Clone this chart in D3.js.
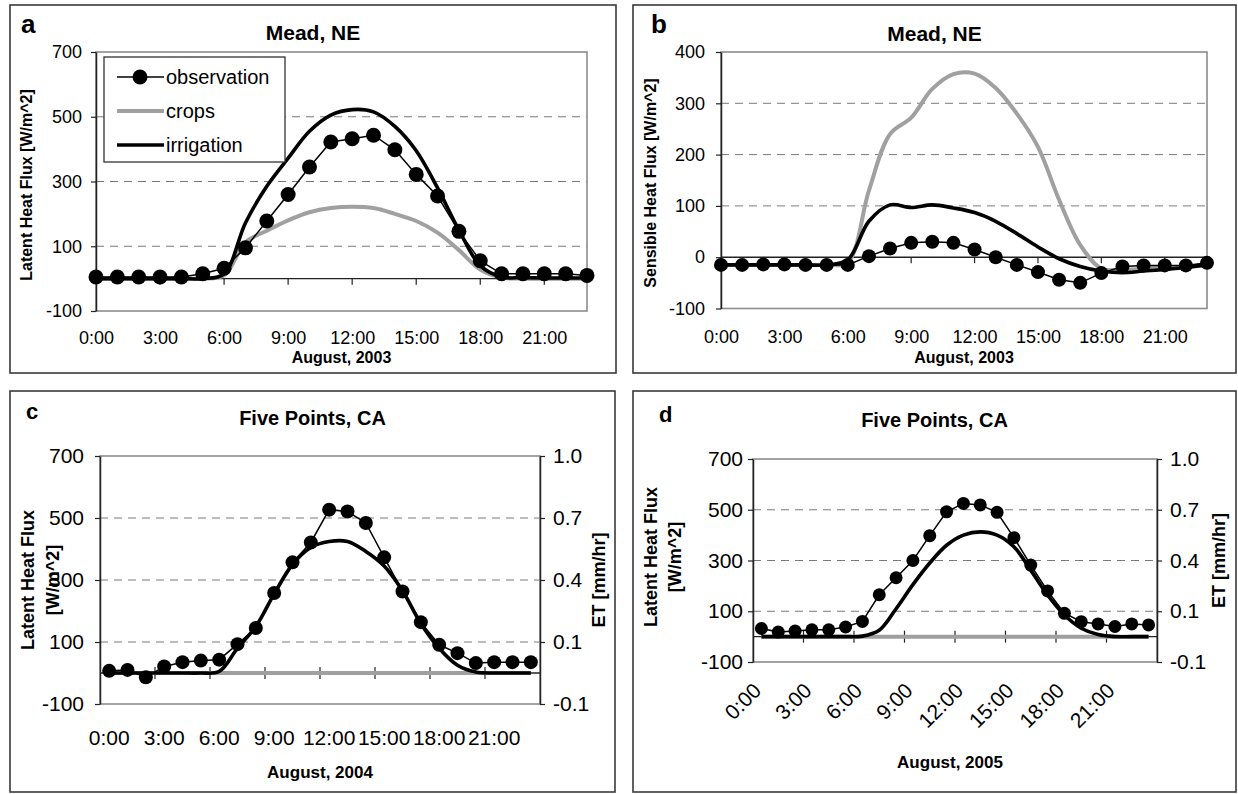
<!DOCTYPE html>
<html><head><meta charset="utf-8">
<script src="https://cdn.jsdelivr.net/npm/d3@7"></script>
<style>
body{margin:0;background:#fff;}
svg{display:block;font-family:"Liberation Sans",Arial,Helvetica,sans-serif;}
</style></head><body>
<svg id="chart" width="1238" height="794"></svg>
<script>
// ---------- data ----------
const hours = d3.range(24).map(h => h + ":00");
const xTickLabels = ["0:00","3:00","6:00","9:00","12:00","15:00","18:00","21:00"];
const latentTicks = [-100, 100, 300, 500, 700];
const sensibleTicks = [-100, 0, 100, 200, 300, 400];
const etTicks = [-0.1, 0.1, 0.4, 0.7, 1.0];
const seriesNames = ["observation", "crops", "irrigation"];

// a: Mead, NE latent heat flux, August 2003
const meadLatentObs   = [5,5,5,5,5,15,32,95,178,260,345,422,432,443,398,322,255,146,55,15,15,15,15,10];
const meadLatentCrops = [0,0,0,0,0,0,10,112,148,180,205,218,222,218,200,178,142,88,28,3,0,0,0,0];
const meadLatentIrr   = [0,0,0,0,0,0,15,172,285,372,455,505,522,515,470,395,280,150,40,5,3,2,2,2];

// b: Mead, NE sensible heat flux, August 2003
const meadSensObs   = [-15,-15,-14,-14,-15,-15,-15,2,17,28,30,28,15,0,-15,-29,-44,-50,-31,-18,-16,-16,-16,-11];
const meadSensCrops = [-15,-15,-15,-15,-15,-15,-10,130,240,272,328,357,358,330,280,215,112,24,-22,-25,-22,-20,-18,-15];
const meadSensIrr   = [-15,-15,-15,-15,-15,-15,-5,70,102,97,102,96,87,70,46,20,-3,-18,-27,-30,-27,-24,-20,-15];

// c: Five Points, CA, August 2004
const fp2004Obs   = [7,10,-14,21,35,40,43,93,145,258,357,421,527,521,484,373,263,164,91,64,32,35,35,35];
const fp2004Crops = [0,0,0,0,0,0,0,0,0,0,0,0,0,0,0,0,0,0,0,0,0,0,0,0];
const fp2004Irr   = [0,0,0,0,0,0,5,80,150,255,350,405,424,424,392,345,265,160,80,25,3,0,0,0];

// d: Five Points, CA, August 2005
const fp2005Obs   = [32,18,22,27,27,38,60,165,232,300,398,492,525,519,490,390,282,180,92,59,50,40,50,46];
const fp2005Crops = [0,0,0,0,0,0,0,0,0,0,0,0,0,0,0,0,0,0,0,0,0,0,0,0];
const fp2005Irr   = [0,0,0,0,0,0,2,25,110,205,290,360,400,413,400,354,262,164,85,33,8,0,0,0];

// ---------- drawing ----------
const svg = d3.select("#chart");
const FONT = '"Liberation Sans",Arial,Helvetica,sans-serif';
const GRAY = "#a0a0a0";
const intFmt = d => String(d);
const etFmt = d => d.toFixed(1);

function panel(cfg) {
  const g = svg.append("g");
  g.append("rect").attr("x", cfg.ox).attr("y", cfg.oy).attr("width", cfg.ow).attr("height", cfg.oh)
    .attr("fill", "#fff").attr("stroke", "#3a3a3a").attr("stroke-width", 1.6);

  const y = d3.scaleLinear().domain([cfg.yTicks[0], cfg.yTicks[cfg.yTicks.length - 1]]).range([cfg.b, cfg.t]);
  let x, cx;
  if (cfg.band) {
    x = d3.scaleBand().domain(hours).range([cfg.l, cfg.r]);
    cx = h => x(h) + x.bandwidth() / 2;
  } else {
    x = d3.scalePoint().domain(hours).range([cfg.l, cfg.r]);
    cx = h => x(h);
  }

  // dashed gridlines
  g.selectAll(".grid").data(cfg.grid).join("line")
    .attr("x1", cfg.l).attr("x2", cfg.r).attr("y1", d => y(d)).attr("y2", d => y(d))
    .attr("stroke", "#7a7a7a").attr("stroke-width", 1).attr("stroke-dasharray", "8,6");

  // plot frame
  g.append("rect").attr("x", cfg.l).attr("y", cfg.t).attr("width", cfg.r - cfg.l).attr("height", cfg.b - cfg.t)
    .attr("fill", "none").attr("stroke", "#8c8c8c").attr("stroke-width", 1.6);

  // y axis
  const ya = d3.axisLeft(y).tickValues(cfg.yTicks).tickSize(5).tickSizeOuter(0).tickPadding(cfg.yPad).tickFormat(intFmt);
  const yg = g.append("g").attr("transform", `translate(${cfg.l},0)`).call(ya);
  yg.select(".domain").attr("stroke", "#222").attr("stroke-width", 1.5);
  yg.selectAll(".tick line").attr("stroke", "#222").attr("stroke-width", 1.2);
  yg.selectAll("text").attr("font-size", cfg.tickFs).attr("font-family", FONT).attr("fill", "#000");

  // right ET axis
  if (cfg.et) {
    const et = d3.scaleLinear().domain(etTicks).range(latentTicks.map(v => y(v)));
    const ea = d3.axisRight(et).tickValues(etTicks).tickSize(5).tickSizeOuter(0).tickPadding(8).tickFormat(etFmt);
    const eg = g.append("g").attr("transform", `translate(${cfg.r},0)`).call(ea);
    eg.select(".domain").attr("stroke", "#222").attr("stroke-width", 1.5);
    eg.selectAll(".tick line").attr("stroke", "#222").attr("stroke-width", 1.2);
    eg.selectAll("text").attr("font-size", cfg.tickFs).attr("font-family", FONT).attr("fill", "#000");
    g.append("text").attr("transform", `translate(${cfg.etX},${(cfg.t + cfg.b) / 2}) rotate(-90)`)
      .attr("text-anchor", "middle").attr("font-weight", "bold").attr("font-size", cfg.yTitleFs)
      .text("ET [mm/hr]");
  }

  // zero axis with tick marks
  const y0 = y(0);
  g.append("line").attr("x1", cfg.l).attr("x2", cfg.r).attr("y1", y0).attr("y2", y0)
    .attr("stroke", "#222").attr("stroke-width", 1.4);
  const tickPos = xTickLabels.slice(1).map(h => x(h));
  g.selectAll(".xtick").data(tickPos).join("line")
    .attr("x1", d => d).attr("x2", d => d)
    .attr("y1", cfg.band ? y0 - 6 : y0).attr("y2", y0 + 6)
    .attr("stroke", "#222").attr("stroke-width", 1.2);

  // x tick labels
  const xa = d3.axisBottom(x).tickValues(xTickLabels).tickSize(0);
  const xg = g.append("g").attr("transform", `translate(0,${cfg.b})`).call(xa);
  xg.select(".domain").remove();
  const xt = xg.selectAll("text").attr("font-size", cfg.tickFs).attr("font-family", FONT).attr("fill", "#000");
  if (cfg.rotate) {
    xt.attr("y", 0).attr("dy", 0).attr("text-anchor", "end")
      .attr("transform", `translate(${cfg.rotDx},${cfg.rotDy}) rotate(-45)`);
  } else {
    xt.attr("y", cfg.xLabY).attr("dy", 0);
  }

  // x title
  g.append("text").attr("x", (cfg.l + cfg.r) / 2 + (cfg.xTitleShift || 0)).attr("y", cfg.xTitleY)
    .attr("text-anchor", "middle").attr("font-weight", "bold").attr("font-size", cfg.xTitleFs).text(cfg.xTitle);

  // y title (one or two lines)
  cfg.yTitle.forEach((line, i) => {
    g.append("text").attr("transform", `translate(${cfg.yTitleX[i]},${cfg.yTitleCY}) rotate(-90)`)
      .attr("text-anchor", "middle").attr("font-weight", "bold").attr("font-size", cfg.yTitleFs).text(line);
  });

  // chart title and panel letter
  g.append("text").attr("x", cfg.ox + cfg.ow / 2).attr("y", cfg.titleY).attr("text-anchor", "middle")
    .attr("font-weight", "bold").attr("font-size", cfg.titleFs).text(cfg.title);
  g.append("text").attr("x", cfg.letterX).attr("y", cfg.letterY).attr("font-weight", "bold")
    .attr("font-size", cfg.letterFs).text(cfg.letter);

  // series
  const smooth = d3.line().x((d, i) => cx(hours[i])).y(d => y(d)).curve(d3.curveCatmullRom.alpha(0.5));
  const straight = d3.line().x((d, i) => cx(hours[i])).y(d => y(d));
  g.append("path").datum(cfg.crops).attr("d", smooth).attr("fill", "none")
    .attr("stroke", GRAY).attr("stroke-width", 4).attr("stroke-linejoin", "round");
  g.append("path").datum(cfg.irr).attr("d", smooth).attr("fill", "none")
    .attr("stroke", "#000").attr("stroke-width", 3.6).attr("stroke-linejoin", "round");
  g.append("path").datum(cfg.obs).attr("d", straight).attr("fill", "none")
    .attr("stroke", "#000").attr("stroke-width", 1.5);
  g.selectAll(".obs").data(cfg.obs).join("circle")
    .attr("cx", (d, i) => cx(hours[i])).attr("cy", d => y(d)).attr("r", cfg.markR).attr("fill", "#000");

  // legend
  if (cfg.legend) {
    const L = cfg.legend;
    g.append("rect").attr("x", L.x).attr("y", L.y).attr("width", L.w).attr("height", L.h)
      .attr("fill", "#fff").attr("stroke", "#333").attr("stroke-width", 1.3);
    seriesNames.forEach((name, i) => {
      const yy = L.y + 20 + i * 34;
      const col = name === "crops" ? GRAY : "#000";
      const sw = name === "observation" ? 1.5 : (name === "crops" ? 4 : 3.6);
      g.append("line").attr("x1", L.x + 13).attr("x2", L.x + 60).attr("y1", yy).attr("y2", yy)
        .attr("stroke", col).attr("stroke-width", sw);
      if (name === "observation") g.append("circle").attr("cx", L.x + 36).attr("cy", yy).attr("r", 7.5).attr("fill", "#000");
      g.append("text").attr("x", L.x + 62).attr("y", yy + 7).attr("font-size", 20).text(name);
    });
  }
}

panel({
  ox: 10, oy: 5, ow: 606, oh: 368,
  l: 96, r: 587, t: 52, b: 311,
  yTicks: latentTicks, grid: [100, 300, 500], yPad: 9, tickFs: 18,
  xLabY: 33, xTitle: "August, 2003", xTitleY: 363, xTitleFs: 16,
  yTitle: ["Latent Heat Flux [W/m^2]"], yTitleX: [32], yTitleCY: 185, yTitleFs: 16,
  title: "Mead, NE", titleY: 40, titleFs: 21, letter: "a", letterX: 21, letterY: 33, letterFs: 26,
  obs: meadLatentObs, crops: meadLatentCrops, irr: meadLatentIrr, markR: 7.5,
  legend: {x: 104, y: 57, w: 181, h: 105}
});

panel({
  ox: 633, oy: 5, ow: 603, oh: 368,
  l: 721, r: 1207, t: 52, b: 308.5,
  yTicks: sensibleTicks, grid: [100, 200, 300], yPad: 11, tickFs: 18,
  xLabY: 34.5, xTitle: "August, 2003", xTitleY: 363, xTitleFs: 16,
  yTitle: ["Sensible Heat Flux [W/m^2]"], yTitleX: [656], yTitleCY: 183, yTitleFs: 16,
  title: "Mead, NE", titleY: 41, titleFs: 21, letter: "b", letterX: 651, letterY: 33, letterFs: 26,
  obs: meadSensObs, crops: meadSensCrops, irr: meadSensIrr, markR: 7
});

panel({
  ox: 10, oy: 391, ow: 605, oh: 401,
  l: 100, r: 540, t: 456, b: 704, band: true, et: true, etX: 605,
  yTicks: latentTicks, grid: [100, 300, 500], yPad: 11, tickFs: 21,
  xLabY: 41, xTitle: "August, 2004", xTitleY: 778, xTitleFs: 17,
  yTitle: ["Latent Heat Flux", "[W/m^2]"], yTitleX: [34, 59], yTitleCY: 580, yTitleFs: 18,
  title: "Five Points, CA", titleY: 425, titleFs: 20, letter: "c", letterX: 26, letterY: 419, letterFs: 22,
  obs: fp2004Obs, crops: fp2004Crops, irr: fp2004Irr, markR: 7
});

panel({
  ox: 633, oy: 391, ow: 603, oh: 401,
  l: 753, r: 1157, t: 459, b: 662, band: true, et: true, etX: 1225,
  yTicks: latentTicks, grid: [100, 300, 500], yPad: 5, tickFs: 21,
  rotate: true, rotDx: 1, rotDy: 30, xTitle: "August, 2005", xTitleY: 768, xTitleFs: 17, xTitleShift: -5,
  yTitle: ["Latent Heat Flux", "[W/m^2]"], yTitleX: [657, 681], yTitleCY: 557, yTitleFs: 18,
  title: "Five Points, CA", titleY: 427, titleFs: 20, letter: "d", letterX: 659, letterY: 422, letterFs: 22,
  obs: fp2005Obs, crops: fp2005Crops, irr: fp2005Irr, markR: 6.5
});
</script>
</body></html>
